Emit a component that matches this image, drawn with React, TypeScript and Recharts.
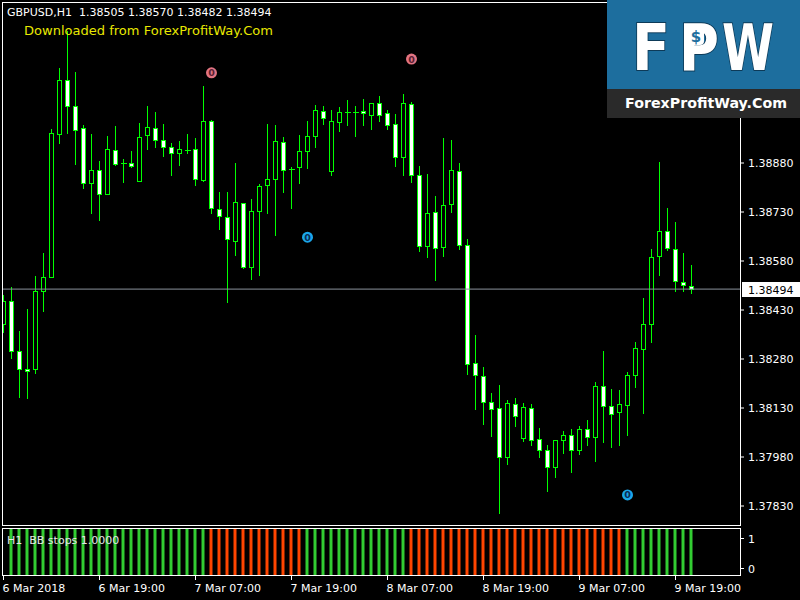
import React from 'react';
import { ComposedChart, Bar, Scatter, XAxis, YAxis, ReferenceLine, Cell } from 'recharts';

const FONT = 'DejaVu Sans';
const LIME = '#00ff00';
const GREEN = '#32cd32';
const RED = '#ff4500';

// GBPUSD H1, 6 Mar 2018 07:00 .. 9 Mar 2018 21:00 (87 candles)
const opens = [
  1.38387, 1.38458, 1.38305, 1.38249, 1.38249, 1.38488, 1.38531, 1.38969, 1.39134, 1.39054,
  1.38987, 1.38819, 1.38859, 1.38785, 1.38920, 1.38880, 1.38880, 1.38825, 1.38966, 1.38987,
  1.38950, 1.38929, 1.38911, 1.38920, 1.38923, 1.38828, 1.39009, 1.38739, 1.38715, 1.38641,
  1.38758, 1.38562, 1.38733, 1.38813, 1.38831, 1.38944, 1.38862, 1.38868, 1.38917, 1.38963,
  1.39039, 1.38855, 1.39005, 1.39036, 1.39036, 1.39039, 1.39027, 1.39064, 1.39033, 1.38999,
  1.38898, 1.39061, 1.38843, 1.38626, 1.38730, 1.38623, 1.38754, 1.38855, 1.38629, 1.38268,
  1.38228, 1.38148, 1.38130, 1.37980, 1.38142, 1.38038, 1.38130, 1.38035, 1.38001, 1.37949,
  1.38032, 1.38047, 1.38001, 1.38066, 1.38041, 1.38197, 1.38136, 1.38118, 1.38139, 1.38231,
  1.38311, 1.38387, 1.38595, 1.38672, 1.38617, 1.38516, 1.38505,
];
const highs = [
  1.38479, 1.38503, 1.38369, 1.38436, 1.38537, 1.38608, 1.38987, 1.39174, 1.39287, 1.39162,
  1.38999, 1.38972, 1.38889, 1.38966, 1.38996, 1.38895, 1.38920, 1.39005, 1.39058, 1.39039,
  1.39002, 1.38944, 1.38950, 1.38972, 1.38960, 1.39119, 1.39015, 1.38794, 1.38794, 1.38883,
  1.38761, 1.38773, 1.38819, 1.39002, 1.38999, 1.38963, 1.38871, 1.38969, 1.39012, 1.39061,
  1.39058, 1.39045, 1.39054, 1.39076, 1.39058, 1.39079, 1.39064, 1.39088, 1.39045, 1.39033,
  1.39094, 1.39070, 1.38874, 1.38849, 1.38782, 1.38960, 1.38953, 1.38883, 1.38650, 1.38357,
  1.38259, 1.38179, 1.38204, 1.38158, 1.38164, 1.38148, 1.38145, 1.38072, 1.38020, 1.38035,
  1.38063, 1.38069, 1.38078, 1.38096, 1.38213, 1.38308, 1.38191, 1.38188, 1.38243, 1.38335,
  1.38470, 1.38620, 1.38886, 1.38745, 1.38702, 1.38608, 1.38570,
];
const lows = [
  1.38363, 1.38283, 1.38164, 1.38161, 1.38237, 1.38427, 1.38531, 1.38941, 1.38972, 1.38877,
  1.38803, 1.38727, 1.38705, 1.38785, 1.38874, 1.38822, 1.38868, 1.38825, 1.38923, 1.38929,
  1.38901, 1.38843, 1.38874, 1.38911, 1.38813, 1.38825, 1.38727, 1.38678, 1.38455, 1.38598,
  1.38559, 1.38525, 1.38537, 1.38727, 1.38660, 1.38791, 1.38742, 1.38819, 1.38865, 1.38929,
  1.38999, 1.38843, 1.38978, 1.38996, 1.38963, 1.38996, 1.38984, 1.39009, 1.38984, 1.38871,
  1.38843, 1.38822, 1.38611, 1.38592, 1.38522, 1.38595, 1.38730, 1.38617, 1.38234, 1.38127,
  1.38081, 1.38044, 1.37809, 1.37959, 1.38075, 1.38029, 1.38017, 1.37980, 1.37876, 1.37919,
  1.37992, 1.37934, 1.37989, 1.38017, 1.37968, 1.38026, 1.38011, 1.38017, 1.38047, 1.38194,
  1.38115, 1.38332, 1.38537, 1.38614, 1.38488, 1.38488, 1.38482,
];
const closes = [
  1.38458, 1.38305, 1.38249, 1.38243, 1.38488, 1.38531, 1.38972, 1.39134, 1.39054, 1.38981,
  1.38819, 1.38859, 1.38785, 1.38923, 1.38877, 1.38880, 1.38871, 1.38960, 1.38990, 1.38950,
  1.38929, 1.38911, 1.38923, 1.38920, 1.38831, 1.39009, 1.38742, 1.38718, 1.38647, 1.38761,
  1.38562, 1.38733, 1.38810, 1.38831, 1.38947, 1.38859, 1.38862, 1.38917, 1.38963, 1.39042,
  1.39018, 1.39009, 1.39036, 1.39036, 1.39036, 1.39033, 1.39064, 1.39027, 1.38996, 1.38898,
  1.39064, 1.38843, 1.38626, 1.38727, 1.38620, 1.38751, 1.38859, 1.38629, 1.38265, 1.38231,
  1.38148, 1.38127, 1.37980, 1.38145, 1.38106, 1.38133, 1.38032, 1.38001, 1.37949, 1.38032,
  1.38047, 1.38001, 1.38066, 1.38041, 1.38197, 1.38136, 1.38112, 1.38142, 1.38231, 1.38314,
  1.38387, 1.38592, 1.38672, 1.38620, 1.38519, 1.38507, 1.38494,
];

// BB stops histogram state per candle ('-' = no bar, G = up, R = down)
const trendStates = (
  '-' +
  'GGGGGGGGGGGGGGGGGGGGGGGGG' +
  'RRRRRRRRRRRR' +
  'GGGGGGGGGGGGG' +
  'RRRRRRRRRRRRRRRRRRRRRRRRRRR' +
  'GGGGGGGGG'
).split('');

const sellSignals = [
  { i: 26, price: 1.39156 },
  { i: 51, price: 1.39198 },
];
const buySignals = [
  { i: 38, price: 1.38653 },
  { i: 78, price: 1.37864 },
];

const timeTickIndex = [0, 12, 24, 36, 48, 60, 72, 84];
const timeLabels = ['6 Mar 2018', '6 Mar 19:00', '7 Mar 07:00', '7 Mar 19:00', '8 Mar 07:00', '8 Mar 19:00', '9 Mar 07:00', '9 Mar 19:00'];
const priceTicks = [1.3783, 1.3798, 1.3813, 1.3828, 1.3843, 1.3858, 1.3873, 1.3888];
const lastPrice = 1.38494;

const X_DOMAIN: [number, number] = [-0.1875, 92.0625];
const Y_DOMAIN: [number, number] = [1.377688, 1.393698];

const candles = opens.map((open, i) => ({ i, open, high: highs[i], low: lows[i], close: closes[i] }));
const histogram = trendStates.map((s, i) => ({ i, s, v: s === '-' ? null : 1 }));

function CandleShape(props: any) {
  const { x, y, width, height, payload } = props;
  if (!payload || x == null || y == null) return null;
  const { open, close, high, low } = payload;
  const cx = Math.floor(x + width / 2) + 0.5;
  const span = high - low;
  const toY = (p: number) => (span > 0 ? y + ((high - p) / span) * height : y);
  const snap = (v: number) => Math.round(v) + 0.5;
  const yH = snap(toY(high));
  const yL = snap(toY(low));
  const yO = snap(toY(open));
  const yC = snap(toY(close));
  const top = Math.min(yO, yC);
  const bot = Math.max(yO, yC);
  const bull = close > open;
  return (
    <g shapeRendering="crispEdges">
      <line x1={cx} x2={cx} y1={yH} y2={yL} stroke={LIME} strokeWidth={1} />
      {bot - top < 1 ? (
        <line x1={cx - 3} x2={cx + 3} y1={top} y2={top} stroke={LIME} strokeWidth={1} />
      ) : (
        <rect x={cx - 2} y={top} width={4} height={bot - top} fill={bull ? '#000000' : '#ffffff'} stroke={LIME} strokeWidth={1} />
      )}
    </g>
  );
}

const makeSignal = (fill: string, ink: string) => (props: any) => {
  const { cx, cy } = props;
  if (cx == null || cy == null) return null;
  return (
    <g>
      <circle cx={cx} cy={cy} r={5.5} fill={fill} />
      <text x={cx} y={cy + 3.5} textAnchor="middle" fontFamily={FONT} fontSize={9.5} fontWeight="bold" fill={ink}>0</text>
    </g>
  );
};
const SellMark = makeSignal('#e27482', '#5a1f33');
const BuyMark = makeSignal('#1aa6ea', '#0a2c55');

function PriceTag(props: any) {
  const vb = props.viewBox;
  if (!vb) return null;
  const yy = Math.round(vb.y);
  const x0 = vb.x + vb.width + 2;
  return (
    <g>
      <rect x={x0} y={yy - 7} width={58} height={15} fill="#ffffff" />
      <text x={x0 + 6} y={yy + 4.5} fontFamily={FONT} fontSize={11} fill="#000000">{lastPrice.toFixed(5)}</text>
    </g>
  );
}

function TimeTick(props: any) {
  const { x, y, payload } = props;
  const idx = timeTickIndex.indexOf(payload.value);
  const px = Math.floor(x) + 0.5;
  return (
    <g>
      <line x1={px} x2={px} y1={y + 1} y2={y + 5} stroke="#ffffff" shapeRendering="crispEdges" />
      <text x={px - 1} y={y + 16.5} fontFamily={FONT} fontSize={11} fill="#ffffff">{idx >= 0 ? timeLabels[idx] : ''}</text>
    </g>
  );
}

function SubTick(props: any) {
  const { x, y, payload } = props;
  const isOne = payload.value === 1;
  const ty = Math.round(isOne ? y + 9 : y - 7) + 0.5;
  return (
    <g>
      <line x1={x + 1} x2={x + 4} y1={ty} y2={ty} stroke="#ffffff" shapeRendering="crispEdges" />
      <text x={x + 8} y={ty + 4} fontFamily={FONT} fontSize={11} fill="#ffffff">{isOne ? '1' : '0'}</text>
    </g>
  );
}

const logoLetter = { fontFamily: FONT, fontWeight: 'bold' as const, fontSize: 64, fill: '#ffffff', stroke: '#0d3a58', strokeWidth: 2, paintOrder: 'stroke' as const };

export default function App() {
  const last = candles[candles.length - 1];
  const header = `GBPUSD,H1  ${last.open.toFixed(5)} ${last.high.toFixed(5)} ${last.low.toFixed(5)} ${last.close.toFixed(5)}`;
  return (
    <div style={{ position: 'absolute', left: 0, top: 0, width: 800, height: 600, background: '#000000', overflow: 'hidden' }}>
      <div style={{ position: 'absolute', left: 0, top: 0 }}>
        <ComposedChart width={800} height={527} data={candles} margin={{ top: 3, right: 0, bottom: 1, left: 2 }}>
          <XAxis dataKey="i" type="number" domain={X_DOMAIN} allowDataOverflow hide />
          <YAxis
            orientation="right"
            width={60}
            domain={Y_DOMAIN}
            allowDataOverflow
            ticks={priceTicks}
            interval={0}
            tickFormatter={(v: number) => v.toFixed(5)}
            tick={{ fill: '#ffffff', fontSize: 11, fontFamily: FONT }}
            tickLine={{ stroke: '#ffffff' }}
            tickSize={4}
            tickMargin={4}
            axisLine={false}
          />
          <ReferenceLine y={lastPrice} stroke="#8a929c" strokeWidth={1} label={<PriceTag />} ifOverflow="visible" />
          <Bar dataKey={(d: any) => [d.low, d.high]} barSize={5} shape={<CandleShape />} isAnimationActive={false} />
          <Scatter data={sellSignals} dataKey="price" shape={SellMark} isAnimationActive={false} />
          <Scatter data={buySignals} dataKey="price" shape={BuyMark} isAnimationActive={false} />
        </ComposedChart>
      </div>
      <div style={{ position: 'absolute', left: 0, top: 526 }}>
        <ComposedChart width={800} height={74} data={histogram} margin={{ top: 3, right: 0, bottom: 0, left: 2 }}>
          <XAxis
            dataKey="i"
            type="number"
            domain={X_DOMAIN}
            allowDataOverflow
            ticks={timeTickIndex}
            interval={0}
            tick={<TimeTick />}
            tickSize={0}
            tickMargin={0}
            axisLine={false}
            tickLine={false}
            height={25}
          />
          <YAxis
            orientation="right"
            width={60}
            domain={[0, 1]}
            allowDataOverflow
            ticks={[0, 1]}
            interval={0}
            tick={<SubTick />}
            tickSize={0}
            tickMargin={0}
            axisLine={false}
            tickLine={false}
          />
          <Bar dataKey="v" barSize={3} isAnimationActive={false}>
            {histogram.map((h, i) => (
              <Cell key={i} fill={h.s === 'R' ? RED : GREEN} />
            ))}
          </Bar>
        </ComposedChart>
      </div>
      <svg width={800} height={600} style={{ position: 'absolute', left: 0, top: 0, pointerEvents: 'none' }}>
        <g stroke="#ffffff" strokeWidth={1} shapeRendering="crispEdges" fill="none">
          <line x1={2} x2={741} y1={2.5} y2={2.5} />
          <line x1={2.5} x2={2.5} y1={2} y2={526} />
          <line x1={740.5} x2={740.5} y1={2} y2={526} />
          <line x1={2} x2={741} y1={525.5} y2={525.5} />
          <rect x={2.5} y={528.5} width={738} height={47} />
        </g>
        <text x={7} y={16} fontFamily={FONT} fontSize={11} fill="#ffffff" style={{ whiteSpace: 'pre' }}>{header}</text>
        <text x={24} y={34.5} fontFamily={FONT} fontSize={13} fill="#e8e800" textLength={249} lengthAdjust="spacingAndGlyphs">Downloaded from ForexProfitWay.Com</text>
        <text x={7} y={543.5} fontFamily={FONT} fontSize={11} fill="#e6e6e6" style={{ whiteSpace: 'pre' }}>{'H1  BB stops 1.0000'}</text>
        <g>
          <rect x={607} y={0} width={193} height={89} fill="#1d6e9e" />
          <rect x={607} y={89} width={193} height={29} fill="#2a2a2a" />
          <text x={632} y={70} textLength={38} lengthAdjust="spacingAndGlyphs" {...logoLetter}>F</text>
          <text x={679} y={70} textLength={40} lengthAdjust="spacingAndGlyphs" {...logoLetter}>P</text>
          <text x={722} y={70} textLength={52} lengthAdjust="spacingAndGlyphs" {...logoLetter}>W</text>
          <rect x={688} y={26} width={16} height={19} rx={4} fill="#ffffff" />
          <text x={696} y={42} textAnchor="middle" fontFamily={FONT} fontWeight="bold" fontSize={15} fill="#1d6e9e">$</text>
          <text x={625} y={108} fontFamily={FONT} fontWeight="bold" fontSize={14} fill="#ffffff" textLength={162} lengthAdjust="spacingAndGlyphs">ForexProfitWay.Com</text>
        </g>
      </svg>
    </div>
  );
}
